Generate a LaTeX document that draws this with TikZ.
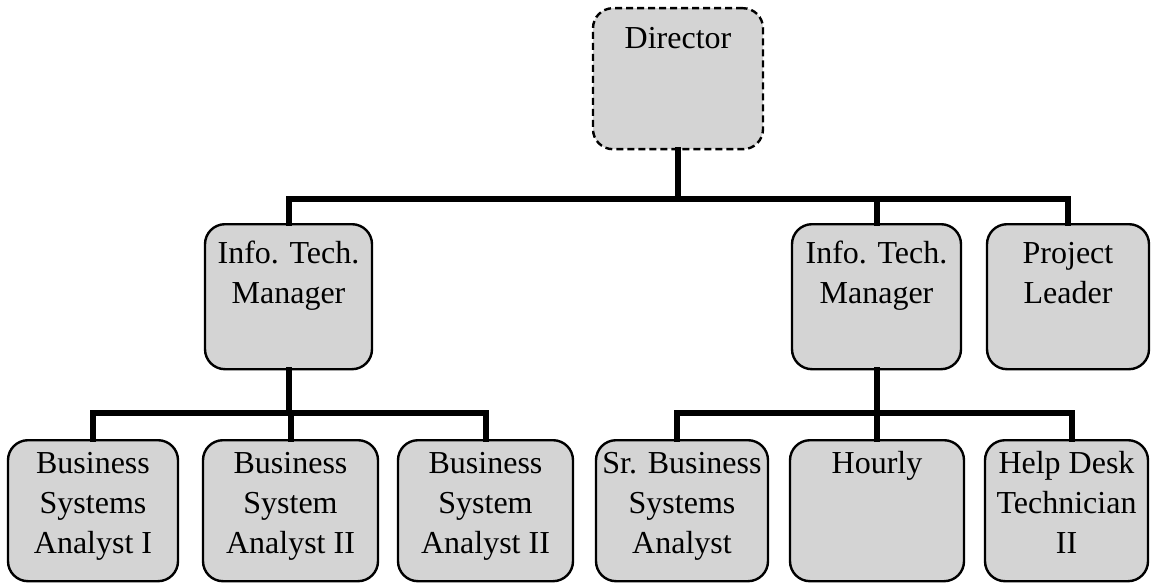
\documentclass[tikz,border=0pt]{standalone}
\usepackage{fontspec}
\setmainfont{Liberation Serif}
% top-aligned stack of centred lines, baseline on the first line
\newcommand{\boxlines}[1]{\begin{tabular}[t]{@{}c@{}}#1\end{tabular}}
\begin{document}
\begin{tikzpicture}[x=1pt,y=1pt,
  box/.style={draw, line width=2.4pt, rounded corners=20pt, fill=black!17,
    inner xsep=0pt, inner ysep=0pt, anchor=north,
    font=\fontsize{32}{40}\selectfont},
  toprow/.style={text height=40pt, text depth=101pt},
  midrow/.style={text height=39pt, text depth=106pt},
  lowrow/.style={text height=33pt, text depth=108pt},
  conn/.style={line width=6pt, line cap=rect, line join=miter}]
\useasboundingbox (0,0) rectangle (1151,-583);

% boxes
\node[box, toprow, dashed, dash pattern=on 7pt off 4pt, minimum width=170pt] (dir) at (678,-7) {Director};
\node[box, midrow, minimum width=167pt] (mgrA) at (288.5,-223) {\boxlines{Info. Tech.\\Manager}};
\node[box, midrow, minimum width=169pt] (mgrB) at (876.5,-223) {\boxlines{Info. Tech.\\Manager}};
\node[box, midrow, minimum width=162pt] (lead) at (1068,-223) {\boxlines{Project\\Leader}};

\node[box, lowrow, minimum width=170pt] (bsa1) at (93,-439) {\boxlines{Business\\Systems\\Analyst I}};
\node[box, lowrow, minimum width=175pt] (bsa2) at (290.5,-439) {\boxlines{Business\\System\\Analyst II}};
\node[box, lowrow, minimum width=175pt] (bsa3) at (485.5,-439) {\boxlines{Business\\System\\Analyst II}};
\node[box, lowrow, minimum width=172pt] (sr) at (682,-439) {\boxlines{Sr. Business\\Systems\\Analyst}};
\node[box, lowrow, minimum width=174pt] (hourly) at (877,-439) {Hourly};
\node[box, lowrow, minimum width=163pt] (help) at (1066.5,-439) {\boxlines{Help Desk\\Technician\\II}};

% junction points of the bus lines
\coordinate (bus1) at (678,-199);
\coordinate (bus2) at (288.5,-413);
\coordinate (bus3) at (876.5,-413);

% connectors
\draw[conn] (dir.south) -- (bus1);
\draw[conn] (mgrA.north) |- (bus1) -| (lead.north);
\draw[conn] (mgrB.north) -- (mgrB.north |- bus1);

\draw[conn] (mgrA.south) -- (bus2);
\draw[conn] (bsa1.north) |- (bus2) -| (bsa3.north);
\draw[conn] (bsa2.north) -- (bsa2.north |- bus2);

\draw[conn] (mgrB.south) -- (bus3);
\draw[conn] ([xshift=-5pt]sr.north) |- (bus3) -| ([xshift=5pt]help.north);
\draw[conn] (hourly.north) -- (hourly.north |- bus3);
\end{tikzpicture}
\end{document}
